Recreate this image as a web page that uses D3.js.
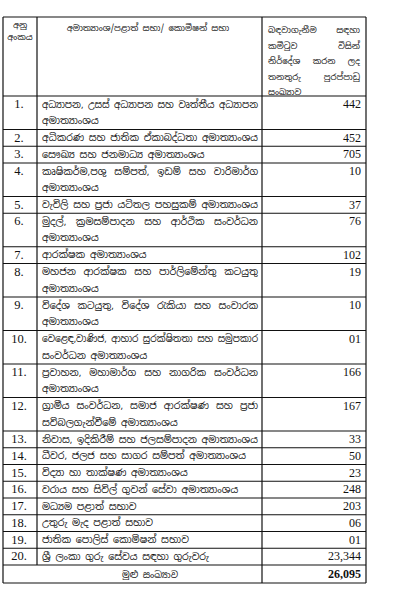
<!DOCTYPE html>
<html><head><meta charset="utf-8">
<script src="https://cdn.jsdelivr.net/npm/d3@7"></script>
<style>body{margin:0;background:#fff}</style>
</head><body>
<svg id="c" width="400" height="600"></svg>
<script>
var nums = ["1.","2.","3.","4.","5.","6.","7.","8.","9.","10.","11.","12.","13.","14.","15.","16.","17.","18.","19.","20."];
var names = [
  "අධ්‍යාපන, උසස් අධ්‍යාපන සහ වෘත්තීය අධ්‍යාපන\nඅමාත්‍යාංශය",
  "අධිකරණ සහ ජාතික ඒකාබද්ධතා අමාත්‍යාංශය",
  "සෞඛ්‍ය සහ ජනමාධ්‍ය අමාත්‍යාංශය",
  "කෘෂිකර්ම,පශු සම්පත්, ඉඩම් සහ වාරිමාර්ග\nඅමාත්‍යාංශය",
  "වැවිලි සහ ප්‍රජා යටිතල පහසුකම් අමාත්‍යාංශය",
  "මුදල්, ක්‍රමසම්පාදන සහ ආර්ථික සංවර්ධන\nඅමාත්‍යාංශය",
  "ආරක්ෂක අමාත්‍යාංශය",
  "මහජන ආරක්ෂක සහ පාර්ලිමේන්තු කටයුතු\nඅමාත්‍යාංශය",
  "විදේශ කටයුතු, විදේශ රැකියා සහ සංචාරක\nඅමාත්‍යාංශය",
  "වෙළෙඳ,වාණිජ, ආහාර සුරක්ෂිතතා සහ සමුපකාර\nසංවර්ධන අමාත්‍යාංශය",
  "ප්‍රවාහන, මහාමාර්ග සහ නාගරික සංවර්ධන\nඅමාත්‍යාංශය",
  "ග්‍රාමීය සංවර්ධන, සමාජ ආරක්ෂණ සහ ප්‍රජා\nසවිබලගැන්වීමේ අමාත්‍යාංශය",
  "නිවාස, ඉදිකිරීම් සහ ජලසම්පාදන අමාත්‍යාංශය",
  "ධීවර, ජලජ සහ සාගර සම්පත් අමාත්‍යාංශය",
  "විද්‍යා හා තාක්ෂණ අමාත්‍යාංශය",
  "වරාය සහ සිවිල් ගුවන් සේවා අමාත්‍යාංශය",
  "මධ්‍යම පළාත් සභාව",
  "උතුරු මැද පළාත් සභාව",
  "ජාතික පොලිස් කොමිෂන් සභාව",
  "ශ්‍රී ලංකා ගුරු සේවය සඳහා ගුරුවරු"
];
var counts = ["442","452","705","10","37","76","102","19","10","01","166","167","33","50","23","248","203","06","01","23,344"];
var headers = ["අනු\nඅංකය", "අමාත්‍යාංශ/පළාත් සභා/ කොමිෂන් සභා",
  "බඳවාගැනීම සඳහා\nකමිටුව විසින්\nනිර්දේශ කරන ලද\nතනතුරු පුරප්පාඩු\nසංඛ්‍යාව"];
var totalLabel = "මුළු සංඛ්‍යාව", totalValue = "26,095";

var svg = d3.select("#c");
var sin = "'Noto Sans Sinhala','Noto Sans',sans-serif", ser = "'Liberation Serif','Times New Roman',serif";
var cols = [3, 37, 262, 366];
var hTop = 17, hBot = 96, bodyEnd = 565, totEnd = 583;

var lines = names.map(function(n){ return n.split("\n").length; });
var cum = [0]; lines.forEach(function(l,i){ cum.push(cum[i]+l); });
var y = d3.scaleLinear().domain([0, cum[cum.length-1]]).range([hBot, bodyEnd]);

var g = svg.append("g").attr("stroke","#111").attr("stroke-width",1.2);
var hl = [hTop].concat(cum.map(function(c){ return y(c); })).concat([totEnd]);
g.selectAll("line.h").data(hl).enter().append("line")
  .attr("x1",cols[0]).attr("x2",cols[3]).attr("y1",function(d){return d;}).attr("y2",function(d){return d;});
[cols[0], cols[2], cols[3]].forEach(function(x){
  g.append("line").attr("x1",x).attr("x2",x).attr("y1",hTop).attr("y2",totEnd);
});
g.append("line").attr("x1",cols[1]).attr("x2",cols[1]).attr("y1",hTop).attr("y2",bodyEnd);

// text; justify = width for non-last lines of multi-line cells
function multi(sel, text, x, y0, lh, size, fam, anchor, justify){
  var t = sel.append("text").attr("x",x).attr("y",y0).attr("font-size",size)
    .attr("font-family",fam).attr("text-anchor",anchor||"start").attr("fill","#111");
  var parts = text.split("\n");
  parts.forEach(function(s,i){
    var ts = t.append("tspan").attr("x",x).attr("dy",i?lh:0).text(s);
    if(!justify) return;
    var w = ts.node().getComputedTextLength();
    if(w > justify) { ts.attr("textLength", justify).attr("lengthAdjust","spacingAndGlyphs"); return; }
    if(i < parts.length-1){
      var gaps = s.split(" ").length-1;
      if(gaps > 0) ts.attr("word-spacing", (justify-w)/gaps);
    }
  });
  return t;
}
multi(svg, headers[0], 20, 28, 12, 8.5, sin, "middle");
multi(svg, headers[1], 148, 31, 11, 8.5, sin, "middle");
multi(svg, headers[2], 268, 33, 15.5, 8.5, sin, "start", 92);

var rows = svg.selectAll("g.r").data(names).enter().append("g")
  .attr("transform",function(d,i){ return "translate(0,"+y(cum[i])+")"; });
rows.each(function(d,i){
  var r = d3.select(this);
  multi(r, nums[i], 19, 12, 16, 12.5, ser, "middle");
  multi(r, d, 42, 11.5, 16.5, 9.5, sin, "start", 216);
  multi(r, counts[i], 361, 12, 16, 12, ser, "end");
});
multi(svg, totalLabel, 150, bodyEnd+13, 12, 9, sin, "middle");
multi(svg, totalValue, 361, bodyEnd+13, 12, 12, ser, "end").attr("font-weight","bold");
</script>
</body></html>
